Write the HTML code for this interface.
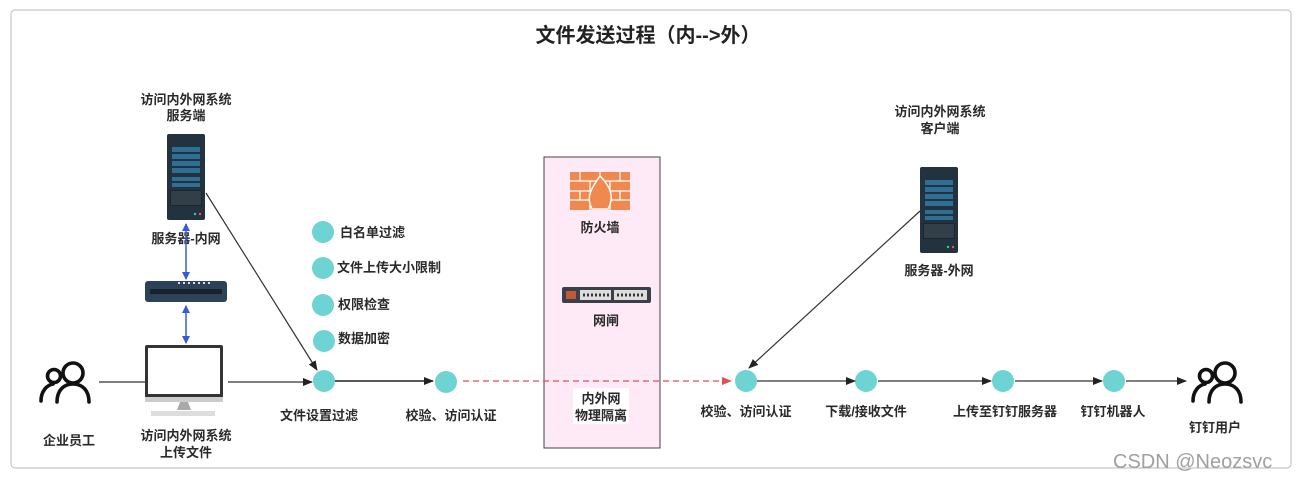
<!DOCTYPE html>
<html><head><meta charset="utf-8"><style>
html,body{margin:0;padding:0;background:#fff;}
svg text{font-family:"Liberation Sans","Noto Sans CJK SC",sans-serif;font-weight:bold;fill:#2a2a2a;font-size:13px;}
</style></head><body>
<svg width="1303" height="481" viewBox="0 0 1303 481" xmlns="http://www.w3.org/2000/svg">
<defs>
<marker id="ab" markerWidth="10" markerHeight="8" refX="9" refY="4" orient="auto" markerUnits="userSpaceOnUse"><path d="M0,0 L10,4 L0,8 Z" fill="#222"/></marker>
<marker id="ar" markerWidth="10" markerHeight="8" refX="9" refY="4" orient="auto" markerUnits="userSpaceOnUse"><path d="M0,0 L10,4 L0,8 Z" fill="#e05050"/></marker>
<marker id="abl" markerWidth="8" markerHeight="10" refX="7" refY="4" orient="auto-start-reverse" markerUnits="userSpaceOnUse"><path d="M0,0 L8,4 L0,8 Z" fill="#3a5bd9"/></marker>
<g id="srv">
<rect x="0" y="0" width="38" height="86" rx="2" fill="#22333f"/>
<rect x="5" y="13" width="28" height="5" fill="#2f6f95"/><rect x="5" y="20" width="28" height="5" fill="#2f6f95"/><rect x="5" y="27" width="28" height="5" fill="#2f6f95"/><rect x="5" y="34" width="28" height="5" fill="#2f6f95"/>
<rect x="5" y="43" width="28" height="4" fill="#2f6f95"/><rect x="5" y="49" width="28" height="4" fill="#2f6f95"/>
<rect x="3" y="56" width="32" height="16" fill="#1a2630"/>
<path d="M5 57V71M7 57V71M9 57V71M11 57V71M13 57V71M15 57V71M17 57V71M19 57V71M21 57V71M23 57V71M25 57V71M27 57V71M29 57V71M31 57V71M33 57V71" stroke="#55656f" stroke-width="0.8"/>
<circle cx="28" cy="80" r="1.2" fill="#3c9"/><circle cx="33" cy="80" r="1.2" fill="#e55"/>
</g>
<g id="person" fill="none" stroke="#111" stroke-width="3.6" stroke-linecap="round">
<circle cx="15" cy="18" r="6.5"/><path d="M2 43 C2 33 8 27 14 26"/>
<circle cx="34" cy="15" r="10"/><path d="M18 44 C18 32 25 26 34 26 C43 26 50 32 50 44"/>
</g>
</defs>
<rect x="11" y="10" width="1280" height="458" rx="4" fill="#fff" stroke="#bbb"/>
<text x="648" y="42" text-anchor="middle" style="font-size:20px;fill:#222">文件发送过程（内-->外）</text>

<text x="186" y="104" text-anchor="middle">访问内外网系统</text>
<text x="186" y="120" text-anchor="middle">服务端</text>
<use href="#srv" x="167" y="134"/>
<text x="186" y="243" text-anchor="middle">服务器-内网</text>
<line x1="186" y1="224" x2="186" y2="279" stroke="#3a5bd9" stroke-width="1.5" marker-start="url(#abl)" marker-end="url(#abl)"/>
<rect x="145" y="281" width="82" height="21" rx="3" fill="#2c4258"/>
<rect x="150" y="289" width="72" height="5" fill="#18222c"/>
<path d="M178 283h2M183 283h2M188 283h2M193 283h2M198 283h2M203 283h2M208 283h2" stroke="#ddd" stroke-width="2"/>
<line x1="186" y1="306" x2="186" y2="343" stroke="#3a5bd9" stroke-width="1.5" marker-start="url(#abl)" marker-end="url(#abl)"/>
<rect x="145" y="345" width="78" height="55" rx="2" fill="#333"/>
<rect x="148" y="348" width="72" height="46" fill="#fff"/>
<rect x="145" y="397" width="78" height="5" fill="#ccc"/>
<path d="M180 402h8l3 8h-14z" fill="#aaa"/>
<rect x="151" y="411" width="64" height="5" fill="#ddd"/>
<text x="186" y="440" text-anchor="middle">访问内外网系统</text>
<text x="186" y="457" text-anchor="middle">上传文件</text>
<use href="#person" x="39" y="358"/>
<text x="69" y="445" text-anchor="middle">企业员工</text>
<line x1="99" y1="382" x2="145" y2="382" stroke="#333" stroke-width="1.2"/>
<line x1="228" y1="382" x2="312" y2="382" stroke="#333" stroke-width="1.2" marker-end="url(#ab)"/>
<line x1="206" y1="193" x2="317" y2="370" stroke="#333" stroke-width="1.2" marker-end="url(#ab)"/>

<g fill="#6dd3d3">
<circle cx="323" cy="232" r="11"/><circle cx="323" cy="268" r="11"/><circle cx="323" cy="305" r="11"/><circle cx="324" cy="341" r="11"/>
<circle cx="324" cy="381" r="11"/><circle cx="446" cy="382" r="11"/>
<circle cx="746" cy="381" r="11"/><circle cx="866" cy="381" r="11"/><circle cx="1003" cy="381" r="11"/><circle cx="1114" cy="381" r="11"/>
</g>
<text x="340" y="237">白名单过滤</text>
<text x="337" y="272">文件上传大小限制</text>
<text x="338" y="309">权限检查</text>
<text x="338" y="343">数据加密</text>
<line x1="335" y1="381" x2="433" y2="381" stroke="#222" stroke-width="1.5" marker-end="url(#ab)"/>
<text x="319" y="420" text-anchor="middle">文件设置过滤</text>
<text x="451" y="420" text-anchor="middle">校验、访问认证</text>

<rect x="544" y="157" width="116" height="291" fill="#fdeaf6" stroke="#444" stroke-width="1"/>
<rect x="570" y="172" width="60" height="38" fill="#f0894f"/>
<path d="M570 181h60M570 191h60M570 200h60M580 172v9M600 172v9M620 172v9M590 181v10M610 181v10M580 191v9M620 191v9M590 200v10M610 200v10" stroke="#fff" stroke-width="1.3"/>
<path d="M600 176 C612 188 614 198 608 209 L592 209 C586 198 590 190 600 176Z" fill="#f0894f" stroke="#fff" stroke-width="1.5"/>
<text x="600" y="232" text-anchor="middle">防火墙</text>
<rect x="562" y="287" width="89" height="16" rx="2" fill="#3a3f48"/>
<rect x="580" y="290" width="31" height="10" fill="#ddd"/><rect x="614" y="290" width="33" height="10" fill="#ddd"/>
<path d="M583 295h26M617 295h28" stroke="#333" stroke-width="3" stroke-dasharray="2 2"/>
<rect x="566" y="291" width="10" height="8" fill="#c0583a"/>
<text x="606" y="325" text-anchor="middle">网闸</text>
<rect x="573" y="388" width="56" height="36" fill="#fff"/>
<text x="601" y="403" text-anchor="middle">内外网</text>
<text x="601" y="420" text-anchor="middle">物理隔离</text>
<line x1="463" y1="381" x2="731" y2="381" stroke="#e05050" stroke-width="1.2" stroke-dasharray="6 4" marker-end="url(#ar)"/>

<text x="940" y="116" text-anchor="middle">访问内外网系统</text>
<text x="940" y="133" text-anchor="middle">客户端</text>
<use href="#srv" x="920" y="167"/>
<text x="939" y="275" text-anchor="middle">服务器-外网</text>
<line x1="920" y1="211" x2="749" y2="368" stroke="#333" stroke-width="1.2" marker-end="url(#ab)"/>
<line x1="757" y1="381" x2="855" y2="381" stroke="#333" stroke-width="1.2" marker-end="url(#ab)"/>
<line x1="878" y1="381" x2="991" y2="381" stroke="#333" stroke-width="1.2" marker-end="url(#ab)"/>
<line x1="1015" y1="381" x2="1102" y2="381" stroke="#333" stroke-width="1.2" marker-end="url(#ab)"/>
<line x1="1126" y1="381" x2="1186" y2="381" stroke="#333" stroke-width="1.2" marker-end="url(#ab)"/>
<text x="746" y="416" text-anchor="middle">校验、访问认证</text>
<text x="866" y="416" text-anchor="middle">下载/接收文件</text>
<text x="1005" y="416" text-anchor="middle">上传至钉钉服务器</text>
<text x="1113" y="416" text-anchor="middle">钉钉机器人</text>
<use href="#person" x="1191" y="358"/>
<text x="1215" y="432" text-anchor="middle">钉钉用户</text>
<text x="1113" y="468" style="font-weight:normal;font-size:20px;fill:#a0a0a0">CSDN @Neozsvc</text>
</svg>
</body></html>
